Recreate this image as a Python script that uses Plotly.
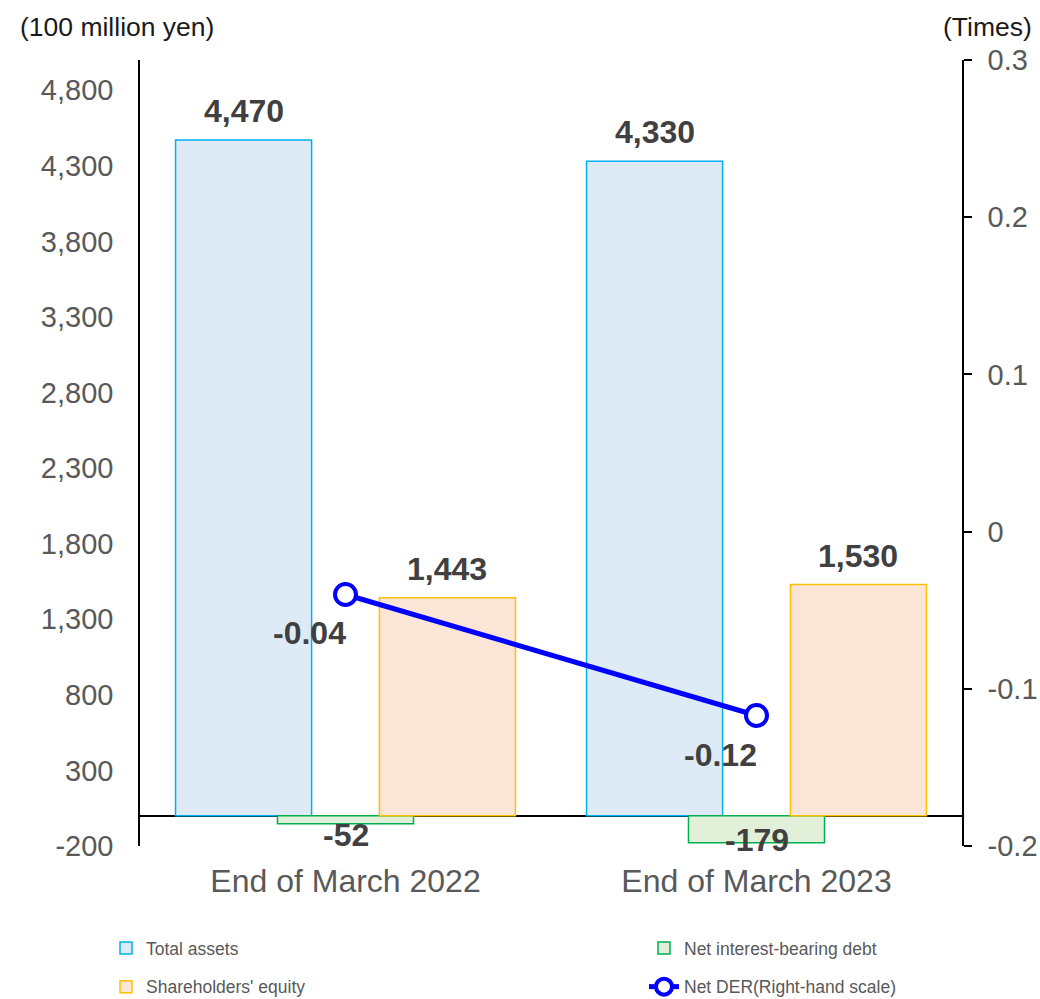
import plotly.graph_objects as go

# ---- data ----
categories = ["End of March 2022", "End of March 2023"]
total_assets = [4470, 4330]
net_debt = [-52, -179]
equity = [1443, 1530]
net_der = [-0.04, -0.117]

left_tickvals = [-200, 300, 800, 1300, 1800, 2300, 2800, 3300, 3800, 4300, 4800]
left_ticktext = ["-200", "300", "800", "1,300", "1,800", "2,300", "2,800", "3,300", "3,800", "4,300", "4,800"]
right_tickvals = [-0.2, -0.1, 0, 0.1, 0.2, 0.3]
right_ticktext = ["-0.2", "-0.1", "0", "0.1", "0.2", "0.3"]

# ---- style ----
FONT = "Arial, 'Liberation Sans', sans-serif"
GRAY = "#595959"
LABEL = "#404040"
W, H = 1040, 999
ML, MR, MT, MB = 140, 78, 60, 153
PLOT_W = W - ML - MR
PLOT_H = H - MT - MB
Y_RANGE = [-200, 5000]
Y2_RANGE = [-0.2, 0.3]
BAR_W = 0.331
x_idx = list(range(len(categories)))

series = [
    dict(name="Total assets", vals=total_assets, center=-0.248, fill="#DEEBF7", line="#00B0F0", legend="legend"),
    dict(name="Net interest-bearing debt", vals=net_debt, center=0.0, fill="#E2F0D9", line="#00B050", legend="legend2"),
    dict(name="Shareholders' equity", vals=equity, center=0.248, fill="#FBE5D6", line="#FFC000", legend="legend"),
]

fig = go.Figure()
annotations = []
units_per_px = (Y_RANGE[1] - Y_RANGE[0]) / PLOT_H

for s in series:
    fig.add_trace(go.Bar(
        x=x_idx, y=s["vals"], name=s["name"], width=BAR_W,
        offset=s["center"] - BAR_W / 2,
        marker=dict(color=s["fill"], line=dict(color=s["line"], width=1.5)),
        legend=s["legend"], legendgroup=s["name"], hoverinfo="skip",
    ))
    for i, v in zip(x_idx, s["vals"]):
        if v >= 0:
            ly = v + 29 * units_per_px
        else:
            ly = max(v - 11 * units_per_px, Y_RANGE[0] + 6 * units_per_px)
        annotations.append(dict(
            x=i + s["center"], y=ly, xref="x", yref="y", text=f"{v:,}",
            showarrow=False, yanchor="middle", xanchor="center",
            font=dict(family=FONT, size=32, color=LABEL, weight="bold"),
        ))

fig.add_trace(go.Scatter(
    x=x_idx, y=net_der, name="Net DER(Right-hand scale)", yaxis="y2",
    mode="lines+markers",
    line=dict(color="#0000FF", width=5),
    marker=dict(symbol="circle", size=21, color="white", line=dict(color="#0000FF", width=4)),
    legend="legend2", legendgroup="der", hoverinfo="skip",
))
for i, v in zip(x_idx, net_der):
    annotations.append(dict(
        x=i, y=v, xref="x", yref="y2", text=f"{v:.2f}", showarrow=False,
        xanchor="center", yanchor="middle", xshift=-36, yshift=-39,
        font=dict(family=FONT, size=32, color=LABEL, weight="bold"),
    ))

# axis unit headers
annotations.append(dict(
    x=(18 - ML) / PLOT_W, y=1 + (MT - 27) / PLOT_H, xref="paper", yref="paper",
    text="(100 million yen)", showarrow=False, xanchor="left", yanchor="middle",
    font=dict(family=FONT, size=26.5, color="#1a1a1a"),
))
annotations.append(dict(
    x=(1034 - ML) / PLOT_W, y=1 + (MT - 27) / PLOT_H, xref="paper", yref="paper",
    text="(Times)", showarrow=False, xanchor="right", yanchor="middle",
    font=dict(family=FONT, size=26.5, color="#1a1a1a"),
))

legend_common = dict(
    xref="container", yref="container", xanchor="left", yanchor="top", orientation="v",
    font=dict(family=FONT, size=17.5, color=GRAY), tracegroupgap=13,
    bgcolor="rgba(0,0,0,0)",
)

fig.update_layout(
    width=W, height=H,
    margin=dict(l=ML, r=MR, t=MT, b=MB, autoexpand=False),
    paper_bgcolor="white", plot_bgcolor="white",
    barmode="overlay",
    showlegend=True,
    font=dict(family=FONT, color=GRAY),
    xaxis=dict(
        range=[-0.5, 1.5], tickvals=x_idx, ticktext=categories, tickangle=0,
        showgrid=False, zeroline=False, showline=False, ticks="",
        tickfont=dict(family=FONT, size=32, color=GRAY), ticklabelstandoff=13,
    ),
    yaxis=dict(
        range=Y_RANGE, tickvals=left_tickvals, ticktext=left_ticktext,
        showgrid=False, zeroline=True, zerolinecolor="black", zerolinewidth=1.5,
        showline=True, linecolor="black", linewidth=1.5, ticks="",
        tickfont=dict(family=FONT, size=29, color=GRAY), ticklabelstandoff=19,
    ),
    yaxis2=dict(
        range=Y2_RANGE, tickvals=right_tickvals, ticktext=right_ticktext,
        overlaying="y", side="right", showgrid=False, zeroline=False,
        showline=True, linecolor="black", linewidth=1.5,
        ticks="outside", ticklen=8, tickcolor="black", tickwidth=1.5,
        tickfont=dict(family=FONT, size=29, color=GRAY), ticklabelstandoff=10,
    ),
    legend=dict(legend_common, x=106 / W, y=1 - 930 / H),
    legend2=dict(legend_common, x=644 / W, y=1 - 930 / H),
    annotations=annotations,
)

fig.write_html(
    "out.html",
    config={"displayModeBar": False},
    post_script="document.body.style.margin='0';document.documentElement.style.overflow='hidden';",
)
